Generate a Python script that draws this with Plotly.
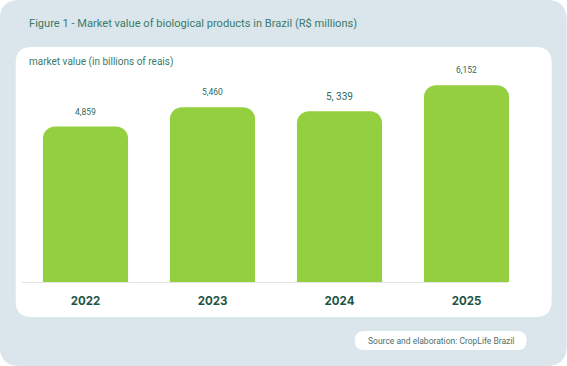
import plotly.graph_objects as go

years = ["2022", "2023", "2024", "2025"]
values = [4859, 5460, 5339, 6152]
value_labels = ["4,859", "5,460", "5, 339", "6,152"]
label_sizes = [8.5, 8.5, 10, 8.5]

title_text = "Figure 1 - Market value of biological products in Brazil (R$ millions)"
subtitle_text = "market value (in billions of reais)"
source_text = "Source and elaboration: CropLife Brazil"

W, H = 567, 366
ML, MR, MT, MB = 22.3, 36.7, 58, 84
PW = W - ML - MR
PH = H - MT - MB


def px(x):
    return (x - ML) / PW


def py(y):
    return (H - MB - y) / PH


def rrect(x0, y0, x1, y1, r):
    pts = [
        f"M {px(x0 + r)} {py(y0)}",
        f"L {px(x1 - r)} {py(y0)}",
        f"Q {px(x1)} {py(y0)} {px(x1)} {py(y0 + r)}",
        f"L {px(x1)} {py(y1 - r)}",
        f"Q {px(x1)} {py(y1)} {px(x1 - r)} {py(y1)}",
        f"L {px(x0 + r)} {py(y1)}",
        f"Q {px(x0)} {py(y1)} {px(x0)} {py(y1 - r)}",
        f"L {px(x0)} {py(y0 + r)}",
        f"Q {px(x0)} {py(y0)} {px(x0 + r)} {py(y0)}",
        "Z",
    ]
    return " ".join(pts)


BG = "#DAE6EC"
TEAL = "#3A7A68"
DARK = "#1E5546"
GREEN = "#93CF3F"

fig = go.Figure(
    go.Bar(
        x=years,
        y=values,
        marker=dict(color=GREEN, line=dict(width=0)),
        hoverinfo="skip",
    )
)

shapes = [
    dict(type="path", xref="paper", yref="paper", path=rrect(0, 0, W, H, 20),
         fillcolor=BG, line=dict(width=0), layer="below"),
    dict(type="path", xref="paper", yref="paper", path=rrect(16, 47, 552, 317, 16),
         fillcolor="white", line=dict(width=0), layer="below"),
    dict(type="path", xref="paper", yref="paper", path=rrect(355, 331, 527, 350, 9.5),
         fillcolor="white", line=dict(width=0), layer="below"),
    dict(type="line", xref="paper", yref="paper", x0=px(22), x1=px(508), y0=py(282.5), y1=py(282.5),
         line=dict(color="#E3E3E3", width=1.2), layer="above"),
]

annotations = [
    dict(text=title_text, xref="paper", yref="paper", x=px(27), y=py(23), xanchor="left", yanchor="middle",
         showarrow=False, font=dict(family="Roboto", size=11.1, color=TEAL)),
    dict(text=subtitle_text, xref="paper", yref="paper", x=px(27), y=py(62), xanchor="left", yanchor="middle",
         showarrow=False, font=dict(family="Roboto", size=10, color=TEAL)),
    dict(text=source_text, xref="paper", yref="paper", x=px(441), y=py(340.5), xanchor="center", yanchor="middle",
         showarrow=False, font=dict(family="Roboto", size=8.5, color="#4F6F6A")),
]
for i, (v, lab, s) in enumerate(zip(values, value_labels, label_sizes)):
    annotations.append(dict(text=lab, x=i, y=v, xref="x", yref="y", yshift=15, showarrow=False,
                            yanchor="middle", font=dict(family="Roboto", size=s, color="#2F6A5D")))

fig.update_layout(
    width=W, height=H,
    margin=dict(l=ML, r=MR, t=MT, b=MB, pad=0),
    paper_bgcolor="white",
    plot_bgcolor="rgba(0,0,0,0)",
    bargap=0.33,
    barcornerradius=12,
    showlegend=False,
    shapes=shapes,
    annotations=annotations,
    xaxis=dict(type="category", showgrid=False, showline=False, zeroline=False, ticks="",
               tickfont=dict(family="Inter", size=11.5, color=DARK, weight=700),
               ticklabelstandoff=10, range=[-0.5, 3.5], fixedrange=True),
    yaxis=dict(visible=False, range=[0, 7000], showgrid=False, zeroline=False, fixedrange=True),
)

fig.write_html("out.html", config={"displayModeBar": False},
               post_script="document.body.style.margin='0';document.body.style.overflow='hidden';")
